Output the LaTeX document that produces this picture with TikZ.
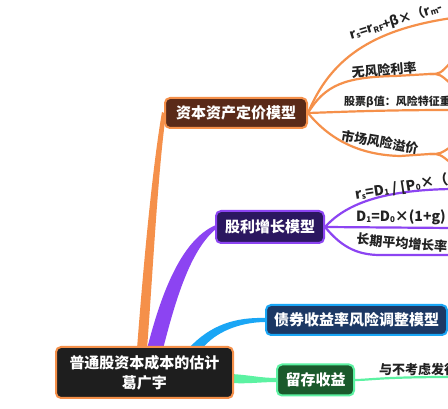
\documentclass[tikz,border=0pt]{standalone}
\usepackage{fontspec}
\setmainfont{Noto Sans CJK SC}
\usetikzlibrary{calc}
\definecolor{corange}{HTML}{F5904A}
\definecolor{capmfill}{HTML}{5A2A18}
\definecolor{cpurple}{HTML}{8C44F2}
\definecolor{divfill}{HTML}{2B1760}
\definecolor{cblue}{HTML}{1AA6F5}
\definecolor{bondfill}{HTML}{1C3864}
\definecolor{cgreen}{HTML}{5CF2A2}
\definecolor{retfill}{HTML}{1B5A2C}
\definecolor{rootfill}{HTML}{1E1E1E}
\definecolor{lbltext}{HTML}{222222}
\newcommand\lsub[1]{\raisebox{-0.15ex}{\fontsize{8}{8}\selectfont #1}}
\pgfdeclarelayer{bottom}
\pgfdeclarelayer{back}
\pgfsetlayers{bottom,back,main}
\tikzset{
  topic/.style={draw, line width=2pt, rounded corners=5pt, text=white,
    font=\bfseries\fontsize{15}{20}\selectfont, inner sep=0pt, align=center},
  lbl/.style={font=\bfseries\fontsize{13}{13}\selectfont, text=lbltext, inner sep=0pt},
  lblf/.style={font=\bfseries\fontsize{14}{14}\selectfont, text=lbltext, inner sep=0pt},
  sub/.style={line width=2.2pt, line cap=round}
}
\begin{document}
\begin{tikzpicture}[x=1pt,y=-1pt]
\clip (0,0) rectangle (448,409);
\begin{pgfonlayer}{bottom}
\fill[white] (0,0) rectangle (448,409);
\end{pgfonlayer}

% main topics
\node[topic, fill=rootfill, draw=corange, minimum width=177pt, minimum height=51pt] (root) at (144.5,372.5) {普通股资本成本的估计\\葛广宇};
\node[topic, fill=capmfill, draw=corange, minimum width=142pt, minimum height=30pt] (capm) at (236,113) {资本资产定价模型};
\node[topic, fill=divfill, draw=cpurple, minimum width=108pt, minimum height=32pt] (div) at (270,227) {股利增长模型};
\node[topic, fill=bondfill, draw=cblue, minimum width=181pt, minimum height=30pt] (bond) at (356.5,320) {债券收益率风险调整模型};
\node[topic, fill=retfill, draw=cgreen, minimum width=77pt, minimum height=31pt] (ret) at (315.5,380) {留存收益};

% free ends
\coordinate (o1) at (452,18);
\coordinate (o2a) at (430,74);
\coordinate (o2u) at (452,61);
\coordinate (o2d) at (452,85);
\coordinate (o3) at (452,110);
\coordinate (o4a) at (430,154);
\coordinate (o4u) at (452,146);
\coordinate (o4d) at (452,164);
\coordinate (p1) at (452,189);
\coordinate (p2) at (452,228);
\coordinate (p3) at (452,255);
\coordinate (g1) at (452,377);

\begin{pgfonlayer}{back}
% tapered main branches
\fill[corange] ($(root.north)+(-7.5,3)$) .. controls (143,270) and (152,170) .. ($(capm.west)+(-2,-1)$)
  -- ($(capm.west)+(2,1)$) .. controls (158,170) and (153,270) .. ($(root.north)+(2.5,3)$) -- cycle;
\fill[cpurple] ($(root.north)+(2.5,3)$) .. controls (160,298) and (180,240) .. ($(div.west)+(1,-2)$)
  -- ($(div.west)+(1,2)$) .. controls (190,250) and (175,302) .. ($(root.north)+(18.5,3)$) -- cycle;
\fill[cblue] ($(root.north)+(43.5,3)$) .. controls (210,325) and (235,317) .. ($(bond.west)+(1,-2)$)
  -- ($(bond.west)+(1,2)$) .. controls (240,322) and (215,332) .. ($(root.north)+(57.5,3)$) -- cycle;
\fill[cgreen] ($(root.east)+(-3,1.5)$) .. controls (250,375) and (260,378) .. ($(ret.west)+(1,-2)$)
  -- ($(ret.west)+(1,2)$) .. controls (260,382) and (250,384) .. ($(root.east)+(-3,10.5)$) -- cycle;

% CAPM sub-branches
\draw[sub, corange] (capm.east) .. controls (330,60) and (370,30) .. (o1);
\draw[sub, corange] (capm.east) .. controls (325,85) and (345,77) .. (395,76) -- (o2a);
\draw[sub, corange] (o2a) .. controls (440,74) .. (o2u);
\draw[sub, corange] (o2a) .. controls (440,74) .. (o2d);
\draw[sub, corange] (capm.east) .. controls (340,112) and (380,110) .. (o3);
\draw[sub, corange] (capm.east) .. controls (330,140) and (360,155) .. (400,156) -- (o4a);
\draw[sub, corange] (o4a) .. controls (440,154) .. (o4u);
\draw[sub, corange] (o4a) .. controls (440,154) .. (o4d);

% dividend growth sub-branches
\draw[sub, cpurple] (div.east) .. controls (345,205) and (380,190) .. (p1);
\draw[sub, cpurple] (div.east) -- (p2);
\draw[sub, cpurple] (div.east) .. controls (340,245) and (355,255) .. (380,255) -- (p3);

% retained earnings sub-branch
\draw[sub, cgreen] (ret.east) .. controls (370,380) and (380,377) .. (g1);
\end{pgfonlayer}

% labels
\node[lblf, font=\bfseries\fontsize{13}{13}\selectfont, rotate=17, anchor=south west] (l1) at (352,42) {r\lsub{s}=r\lsub{RF}+β×（r\lsub{m}-};
\node[lbl, rotate=5] (l2) at (384,70) {无风险利率};
\node[lbl, font=\bfseries\fontsize{11}{11}\selectfont, anchor=south west] (l3) at (344,108) {股票β值：风险特征重};
\node[lbl, rotate=-10] (l4) at (380,142) {市场风险溢价};
\node[lblf, rotate=9, anchor=south west] (l5) at (356,202) {r\lsub{s}=D\lsub{1} / [P\lsub{0}×（};
\node[lblf, anchor=south west] (l6) at (356,225) {D\lsub{1}=D\lsub{0}×(1+g)};
\node[lbl, rotate=-5] (l7) at (402,243) {长期平均增长率};
\node[lbl, anchor=south west] (l8) at (379,376) {与不考虑发行};
\end{tikzpicture}
\end{document}
